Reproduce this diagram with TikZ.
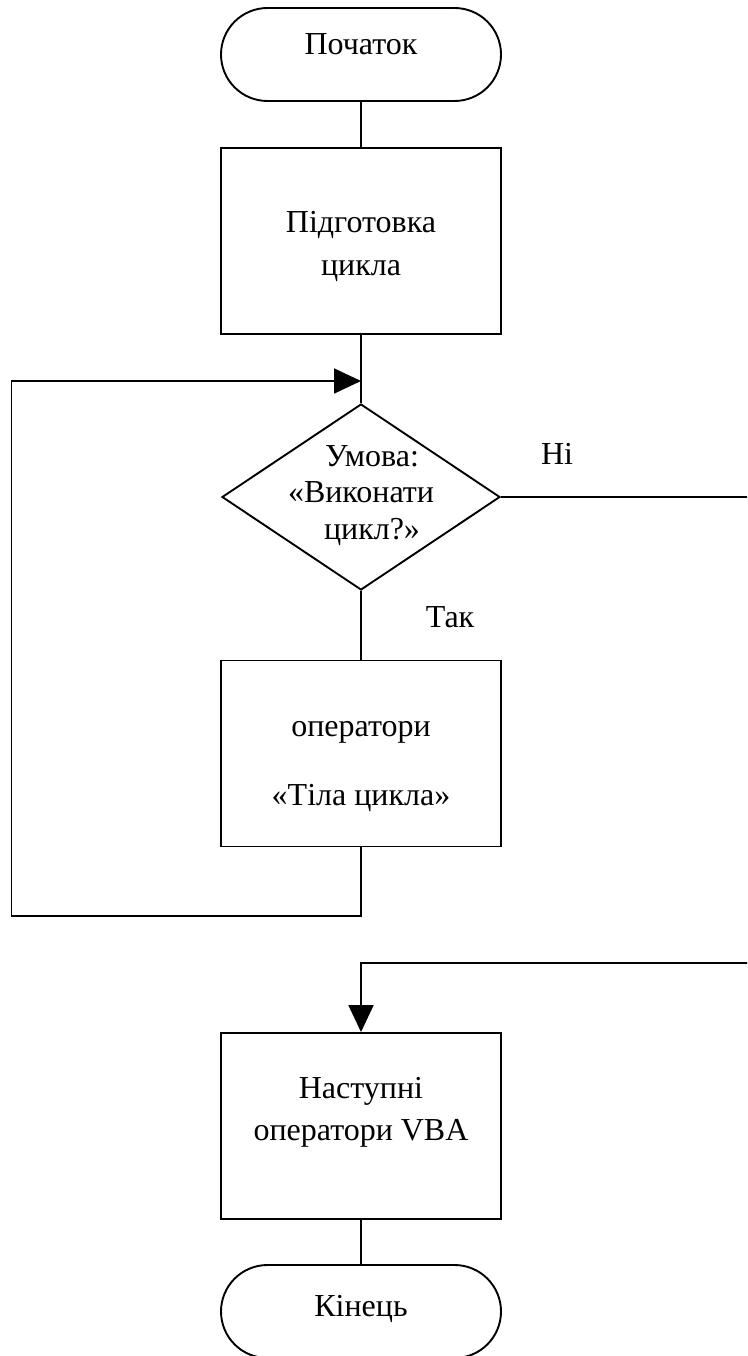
\documentclass[tikz,border=0pt]{standalone}
\usepackage{fontspec}
\setmainfont{Liberation Serif}
\usetikzlibrary{shapes.geometric,shapes.misc,arrows.meta}
\tikzset{
  line/.style={draw=black, line width=1.9pt},
  term/.style={line, rounded rectangle, minimum width=280pt, minimum height=93pt, inner sep=0pt},
  proc/.style={line, rectangle, minimum width=280pt, minimum height=186pt, inner sep=0pt},
  decide/.style={line, diamond, minimum width=278pt, minimum height=186pt, inner sep=0pt},
  txt/.style={inner sep=0pt, anchor=base, align=center},
  arr/.style={line, -{Triangle[length=27pt,width=25pt]}},
}
\begin{document}
\begin{tikzpicture}[x=1pt, y=-1pt]
\useasboundingbox (0,0) rectangle (747,1356);
\clip (0,0) rectangle (747,1356);
% shapes
\node[term]   (start) at (361,54.5) {};
\node[proc]   (prep)  at (361,241)  {};
\node[decide] (cond)  at (361,497)  {};
\node[proc]   (body)  at (361,753.5) {};
\node[proc]   (next)  at (361,1126) {};
\node[term]   (stop)  at (361,1311.5) {};
% texts (anchor base = baseline of last line)
\node[txt, font=\fontsize{32}{43.3}\selectfont] (tstart) at (361,55) {Початок};
\node[txt, font=\fontsize{32}{43.3}\selectfont] (tprep) at (361,276) {Підготовка\\цикла};
\node[txt, font=\fontsize{32}{36.5}\selectfont] (tcond) at (361,539) {\hspace*{22pt}Умова:\\«Виконати\\\hspace*{22pt}цикл?»};
\node[txt, font=\fontsize{32}{69}\selectfont] (tbody) at (361,805.7) {оператори\\«Тіла цикла»};
\node[txt, font=\fontsize{32}{42.7}\selectfont] (tnext) at (361,1140.7) {Наступні\\оператори VBA};
\node[txt, font=\fontsize{32}{40}\selectfont] (tstop) at (361,1316.7) {Кінець};
\node[txt, font=\fontsize{32}{40}\selectfont] (lno) at (557,464) {Ні};
\node[txt, font=\fontsize{32}{40}\selectfont] (lyes) at (450,627) {Так};
% helper coordinates
\coordinate (join) at (361,381);
\coordinate (loopL) at (11.5,916);
\coordinate (rtop) at (770,497);
\coordinate (rbot) at (770,963);
% connectors
\draw[line] (start) -- (prep);
\draw[line] (prep) -- (cond);
\draw[line] (cond) -- (body);
\draw[line] (next) -- (stop);
\draw[arr] (body.south) |- (loopL) |- (join);
\draw[arr] (cond.east) -- (rtop) -- (rbot) -| (next.north);
\end{tikzpicture}
\end{document}
